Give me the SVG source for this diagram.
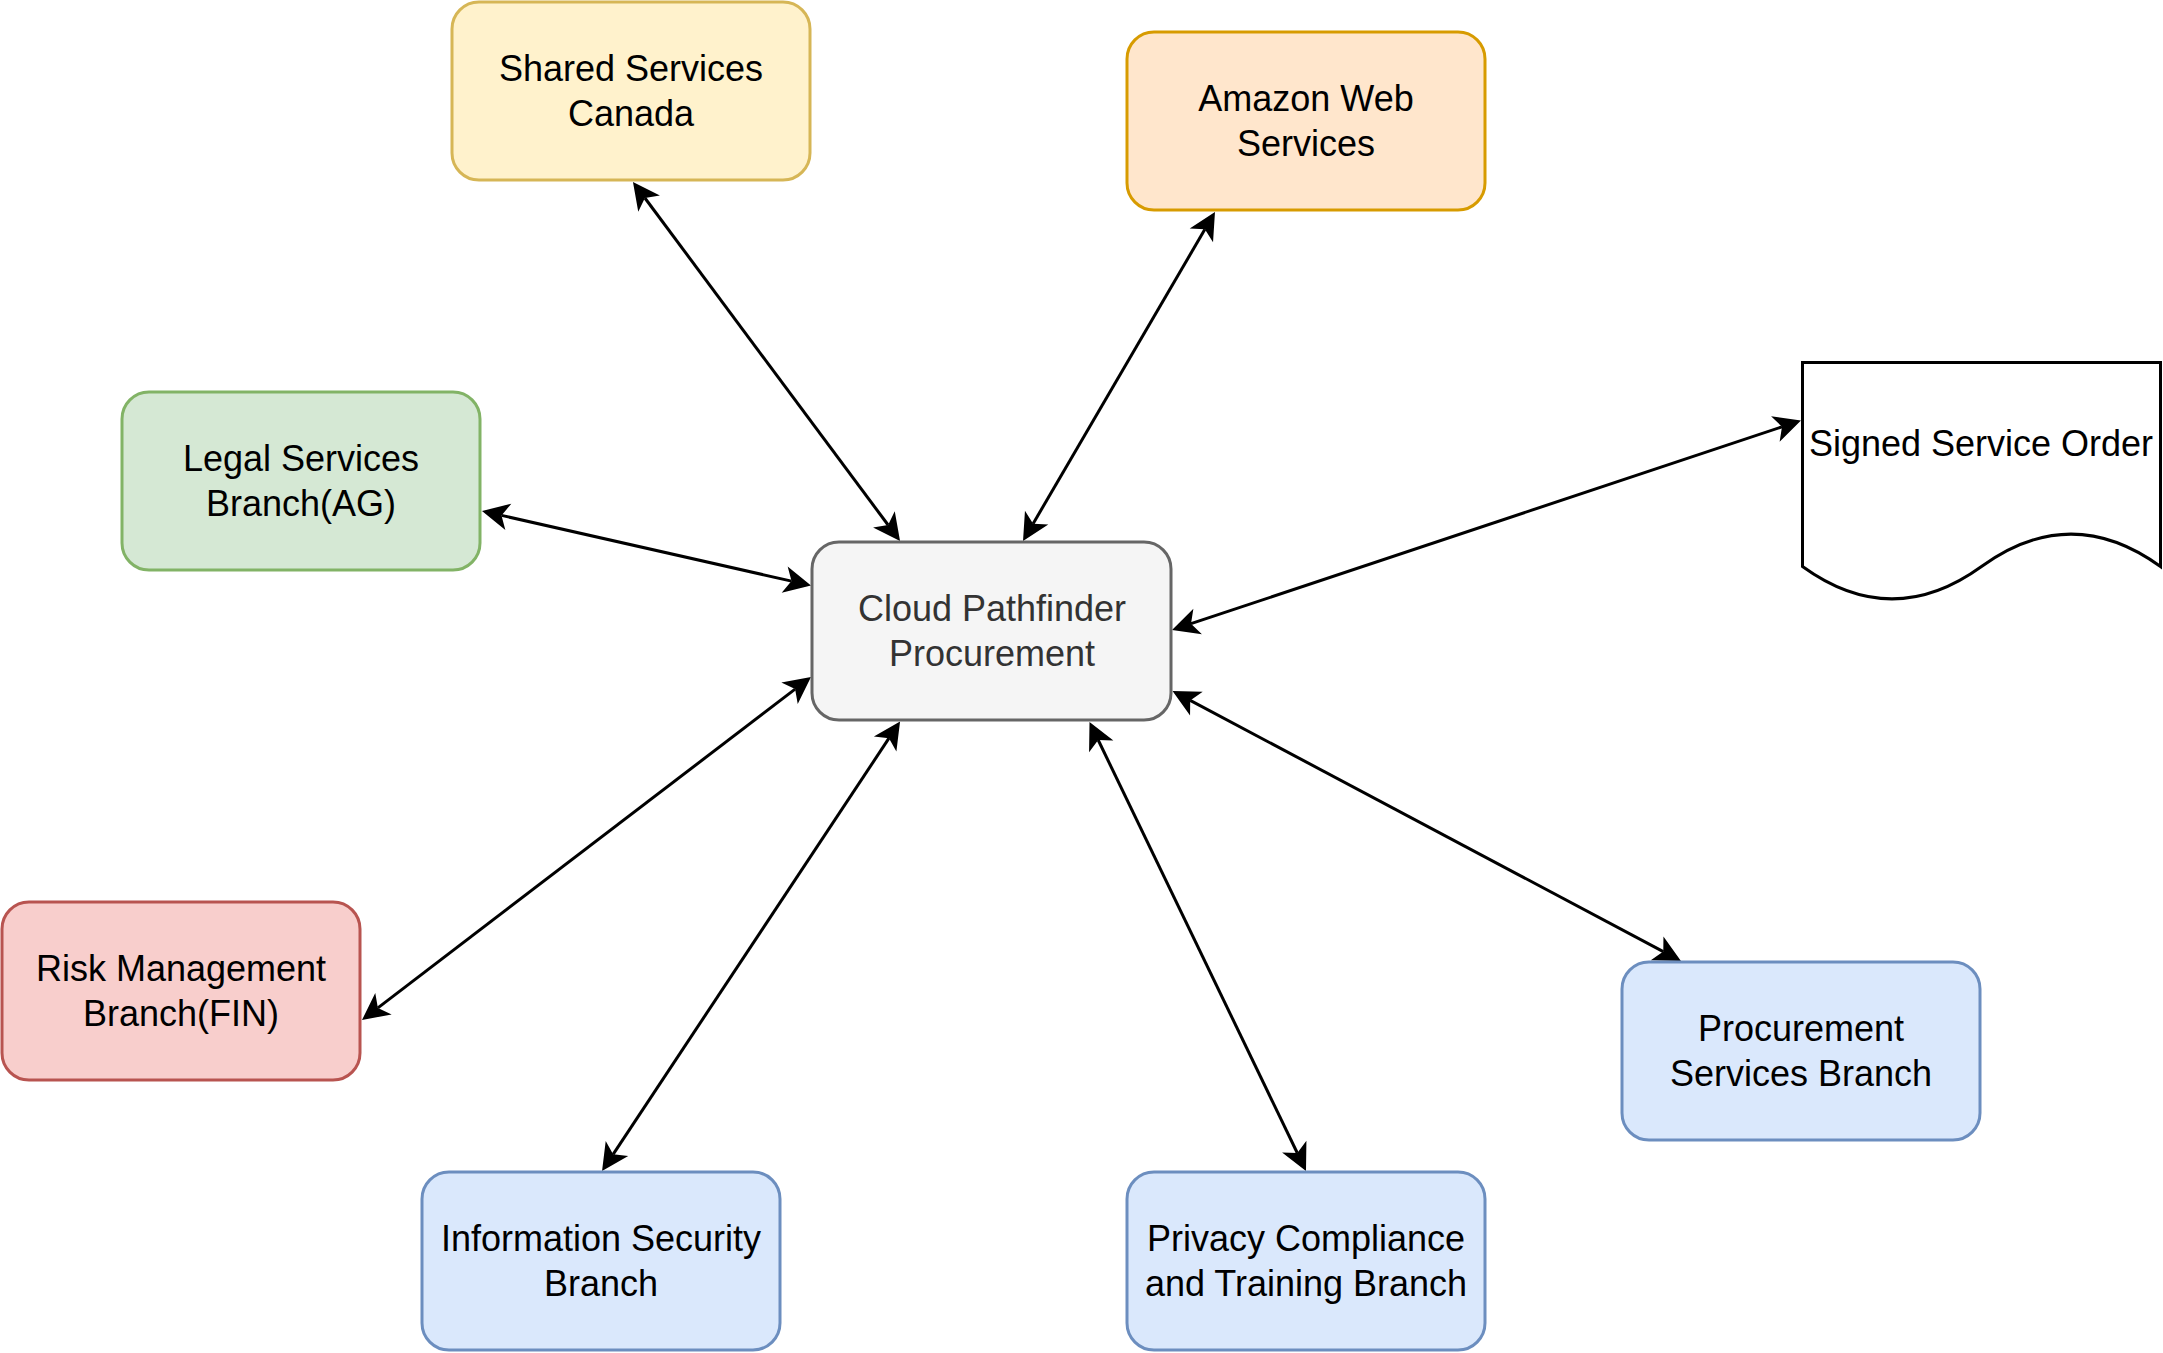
<svg xmlns="http://www.w3.org/2000/svg" width="2163" height="1353" viewBox="0 0 2163 1353">
<style>
.box{stroke-width:3}
.lbl{font-family:"Liberation Sans",Arial,Helvetica,sans-serif;font-size:36px;fill:#000000;text-anchor:middle}
.edge{fill:none;stroke:#000000;stroke-width:3;marker-start:url(#arr);marker-end:url(#arr)}
.yellow{fill:#fff2cc;stroke:#d6b656}
.orange{fill:#ffe6cc;stroke:#d79b00}
.green{fill:#d5e8d4;stroke:#82b366}
.red{fill:#f8cecc;stroke:#b85450}
.blue{fill:#dae8fc;stroke:#6c8ebf}
.gray{fill:#f5f5f5;stroke:#666666}
</style>
<defs>
<marker id="arr" markerUnits="userSpaceOnUse" markerWidth="60" markerHeight="60" refX="0" refY="0" orient="auto-start-reverse" overflow="visible" viewBox="-30 -30 60 60">
<path d="M20,0 L-7,-13.5 L0,0 L-7,13.5 Z" fill="#000000" stroke="none"/>
</marker>
</defs>
<rect width="2163" height="1353" fill="#ffffff"/>
<g id="connectors">
<path class="edge" d="M644.9,198.0 L888.1,525.0"/>
<path class="edge" d="M1204.9,229.3 L1033.1,523.7"/>
<path class="edge" d="M501.5,515.4 L791.5,581.1"/>
<path class="edge" d="M1782.0,426.8 L1191.0,623.7"/>
<path class="edge" d="M377.9,1007.9 L795.1,689.1"/>
<path class="edge" d="M613.1,1154.3 L889.0,738.2"/>
<path class="edge" d="M1297.3,1153.0 L1098.2,740.0"/>
<path class="edge" d="M1663.3,951.6 L1190.2,700.4"/>
</g>
<g id="shared-services-canada">
<rect class="box yellow" x="452" y="2" width="358" height="178" rx="27" ry="27"/>
<text class="lbl" x="631" y="81">Shared Services</text>
<text class="lbl" x="631" y="126">Canada</text>
</g>
<g id="amazon-web-services">
<rect class="box orange" x="1127" y="32" width="358" height="178" rx="27" ry="27"/>
<text class="lbl" x="1306" y="111">Amazon Web</text>
<text class="lbl" x="1306" y="156">Services</text>
</g>
<g id="legal-services-branch">
<rect class="box green" x="122" y="392" width="358" height="178" rx="27" ry="27"/>
<text class="lbl" x="301" y="471">Legal Services</text>
<text class="lbl" x="301" y="516">Branch(AG)</text>
</g>
<g id="cloud-pathfinder-procurement">
<rect class="box gray" x="812" y="542" width="359" height="178" rx="27" ry="27"/>
<text class="lbl" x="992" y="621" style="fill:#333333">Cloud Pathfinder</text>
<text class="lbl" x="992" y="666" style="fill:#333333">Procurement</text>
</g>
<g id="signed-service-order">
<path d="M1802.5,362.5 L2160.5,362.5 L2160.5,566.5 Q2071,501.7 1981.5,566.5 Q1892,631.3 1802.5,566.5 Z" fill="#ffffff" stroke="#000000" stroke-width="3"/>
<text class="lbl" x="1981" y="456">Signed Service Order</text>
</g>
<g id="risk-management-branch">
<rect class="box red" x="2" y="902" width="358" height="178" rx="27" ry="27"/>
<text class="lbl" x="181" y="981">Risk Management</text>
<text class="lbl" x="181" y="1026">Branch(FIN)</text>
</g>
<g id="information-security-branch">
<rect class="box blue" x="422" y="1172" width="358" height="178" rx="27" ry="27"/>
<text class="lbl" x="601" y="1251">Information Security</text>
<text class="lbl" x="601" y="1296">Branch</text>
</g>
<g id="privacy-compliance-branch">
<rect class="box blue" x="1127" y="1172" width="358" height="178" rx="27" ry="27"/>
<text class="lbl" x="1306" y="1251">Privacy Compliance</text>
<text class="lbl" x="1306" y="1296">and Training Branch</text>
</g>
<g id="procurement-services-branch">
<rect class="box blue" x="1622" y="962" width="358" height="178" rx="27" ry="27"/>
<text class="lbl" x="1801" y="1041">Procurement</text>
<text class="lbl" x="1801" y="1086">Services Branch</text>
</g>
</svg>
